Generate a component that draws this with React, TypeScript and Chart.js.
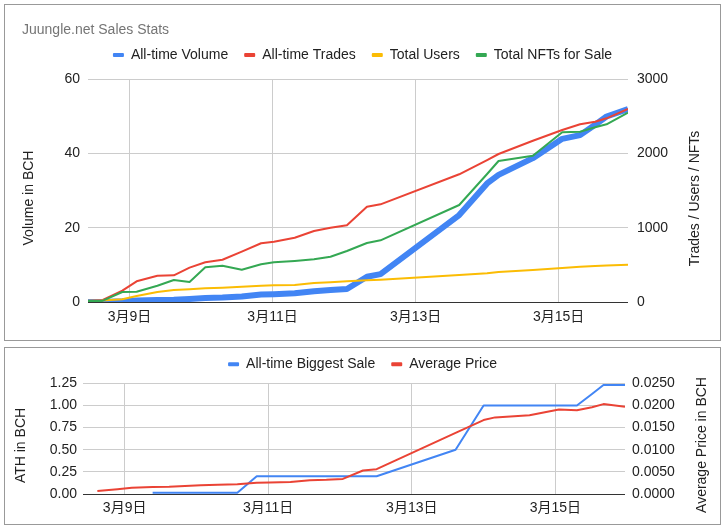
import React, { useEffect, useRef } from 'react';
import { Chart, registerables } from 'chart.js';

Chart.register(...registerables);

// ---- data ----
const days = [8.42, 8.62, 8.9, 9.1, 9.39, 9.62, 9.84, 10.06, 10.3, 10.57, 10.84, 11.02, 11.31, 11.58, 11.81, 12.04, 12.32, 12.51, 13.61, 14.0, 14.16, 14.64, 15.05, 15.3, 15.51, 15.67, 15.97];
const volume = [0, 0.02, 0.17, 0.39, 0.57, 0.6, 0.83, 1.07, 1.19, 1.49, 2.0, 2.1, 2.34, 2.9, 3.2, 3.5, 6.8, 7.5, 23.4, 31.9, 34.2, 38.7, 43.9, 44.9, 47.7, 49.9, 51.9];
const trades = [15, 25, 152, 278, 354, 359, 462, 534, 569, 677, 790, 811, 865, 955, 1000, 1032, 1282, 1314, 1718, 1910, 1991, 2170, 2314, 2391, 2426, 2471, 2597];
const users = [17, 20, 36, 81, 135, 161, 172, 184, 192, 206, 219, 225, 229, 256, 266, 278, 292, 300, 363, 387, 404, 430, 457, 475, 484, 491, 500];
const nfts = [15, 15, 135, 139, 219, 296, 269, 467, 488, 435, 507, 534, 552, 574, 609, 686, 794, 830, 1305, 1722, 1897, 1968, 2283, 2291, 2350, 2391, 2547];
const biggestSale = [null, null, null, null, 0.015, 0.015, 0.015, 0.015, 0.015, 0.015, 0.2, 0.2, 0.2, 0.2, 0.2, 0.2, 0.2, 0.2, 0.5, 1.0, 1.0, 1.0, 1.0, 1.0, 1.13, 1.23, 1.23];
const avgPrice = [null, 0.0007, 0.0011, 0.0014, 0.0016, 0.00165, 0.0018, 0.002, 0.0021, 0.0022, 0.00255, 0.0026, 0.0027, 0.0031, 0.0032, 0.0034, 0.0053, 0.0056, 0.0138, 0.0167, 0.0173, 0.0178, 0.0191, 0.0189, 0.0196, 0.0203, 0.0197];

const dayTicks = [9, 11, 13, 15];
const volumeTicks = [0, 20, 40, 60];
const countTicks = [0, 1000, 2000, 3000];
const athTicks = [0, 0.25, 0.5, 0.75, 1, 1.25];
const priceTicks = [0, 0.005, 0.01, 0.015, 0.02, 0.025];

const FONT = "Arial, 'Liberation Sans', 'Noto Sans CJK JP', sans-serif";
const BLUE = '#4285f4';
const RED = '#ea4335';
const YELLOW = '#fbbc04';
const GREEN = '#34a853';

const pts = (ys: (number | null)[]) => days.map((d, i) => ({ x: d, y: ys[i] }));
const fixTicks = (vals: number[]) => (scale: any) => {
  scale.ticks = vals.map((v) => ({ value: v }));
};

const axisTitlePlugin = {
  id: 'axisTitles',
  afterDraw(chart: any, _args: any, opts: any) {
    const ctx = chart.ctx;
    (opts.items || []).forEach((it: any) => {
      ctx.save();
      ctx.translate(it.x, it.y);
      ctx.rotate(-Math.PI / 2);
      ctx.font = `14px ${FONT}`;
      ctx.fillStyle = '#222';
      ctx.textAlign = 'center';
      ctx.textBaseline = 'middle';
      ctx.fillText(it.text, 0, 0);
      ctx.restore();
    });
  },
};

const legendLabels = (padding: number) => ({
  font: { size: 14, family: FONT },
  color: '#222',
  boxWidth: 11,
  boxHeight: 4,
  padding,
  useBorderRadius: true,
  borderRadius: 1,
  sort: (a: any, b: any) => a.datasetIndex - b.datasetIndex,
  generateLabels: (chart: any) =>
    (Chart.defaults.plugins.legend.labels as any)
      .generateLabels(chart)
      .map((l: any) => ({ ...l, lineWidth: 0, fillStyle: l.strokeStyle })),
});

const gridColor = (c: any) => (c.tick && c.tick.value === 0 ? '#333' : '#ccc');
const tickFont = { size: 14, family: FONT };

function xScale(height: number, pad: number) {
  return {
    type: 'linear' as const,
    min: days[0],
    max: days[days.length - 1],
    afterBuildTicks: fixTicks(dayTicks),
    afterFit: (s: any) => {
      s.height = height;
    },
    grid: { color: '#ccc', drawTicks: false },
    border: { display: false },
    ticks: {
      font: tickFont,
      color: '#222',
      padding: pad,
      maxRotation: 0,
      autoSkip: false,
      callback: (v: any) => `3月${v}日`,
    },
  };
}

function yScale(pos: 'left' | 'right', min: number, max: number, ticks: number[], width: number, pad: number, fmt: (v: number) => string, grid: boolean) {
  return {
    type: 'linear' as const,
    position: pos,
    min,
    max,
    afterBuildTicks: fixTicks(ticks),
    afterFit: (s: any) => {
      s.width = width;
    },
    grid: grid ? { color: gridColor, drawTicks: false } : { display: false, drawTicks: false },
    border: { display: false },
    ticks: { font: tickFont, color: '#222', padding: pad, callback: (v: any) => fmt(Number(v)) },
  };
}

function lineDs(label: string, data: (number | null)[], color: string, width: number, axis: string, order: number) {
  return {
    label,
    data: pts(data),
    borderColor: color,
    backgroundColor: color,
    borderWidth: width,
    pointRadius: 0,
    pointHoverRadius: 0,
    tension: 0,
    fill: false,
    yAxisID: axis,
    order,
    borderJoinStyle: 'round' as const,
  };
}

function TopChart() {
  const ref = useRef<HTMLCanvasElement>(null);
  useEffect(() => {
    const chart = new Chart(ref.current!, {
      type: 'line',
      data: {
        datasets: [
          lineDs('All-time Volume', volume, BLUE, 6, 'y', 4),
          lineDs('All-time Trades', trades, RED, 2, 'y1', 3),
          lineDs('Total Users', users, YELLOW, 2, 'y1', 2),
          lineDs('Total NFTs for Sale', nfts, GREEN, 2, 'y1', 1),
        ] as any,
      },
      options: {
        responsive: false,
        animation: false,
        events: [],
        layout: { padding: { top: 0, left: 17, right: 17, bottom: 0 } },
        scales: {
          x: xScale(38, 7),
          y: yScale('left', 0, 60, volumeTicks, 66, 8, (v) => String(v), true),
          y1: yScale('right', 0, 3000, countTicks, 75, 9, (v) => String(v), false),
        } as any,
        plugins: {
          title: {
            display: true,
            text: 'Juungle.net Sales Stats',
            align: 'start',
            color: '#757575',
            font: { size: 14, weight: 'normal', family: FONT, lineHeight: 0.1 },
            padding: { top: 24.3, bottom: 1.3 },
          },
          subtitle: {
            display: true,
            text: '',
            weight: 500,
            font: { size: 1, lineHeight: 1 },
            padding: { top: 0, bottom: 6 },
          } as any,
          legend: { position: 'top', labels: legendLabels(16) as any },
          tooltip: { enabled: false },
          axisTitles: {
            items: [
              { text: 'Volume in BCH', x: 24, y: 193 },
              { text: 'Trades / Users / NFTs', x: 690.5, y: 193.5 },
            ],
          },
        } as any,
      },
      plugins: [axisTitlePlugin],
    });
    return () => chart.destroy();
  }, []);
  return <canvas ref={ref} width={715} height={335} style={{ display: 'block', width: 715, height: 335 }} />;
}

function BottomChart() {
  const ref = useRef<HTMLCanvasElement>(null);
  useEffect(() => {
    const chart = new Chart(ref.current!, {
      type: 'line',
      data: {
        datasets: [
          lineDs('All-time Biggest Sale', biggestSale, BLUE, 2, 'y', 2),
          lineDs('Average Price', avgPrice, RED, 2, 'y1', 1),
        ] as any,
      },
      options: {
        responsive: false,
        animation: false,
        events: [],
        layout: { padding: { top: -6.7, left: 0, right: 0, bottom: 0 } },
        scales: {
          x: xScale(30, 6),
          y: yScale('left', 0, 1.25, athTicks, 78, 6, (v) => v.toFixed(2), true),
          y1: yScale('right', 0, 0.025, priceTicks, 95, 7, (v) => v.toFixed(4), false),
        } as any,
        plugins: {
          title: { display: false },
          subtitle: {
            display: true,
            text: '',
            weight: 500,
            font: { size: 1, lineHeight: 1 },
            padding: { top: 0, bottom: 1 },
          } as any,
          legend: { position: 'top', labels: legendLabels(16) as any },
          tooltip: { enabled: false },
          axisTitles: {
            items: [
              { text: 'ATH in BCH', x: 16, y: 97.5 },
              { text: 'Average Price in BCH', x: 697, y: 97 },
            ],
          },
        } as any,
      },
      plugins: [axisTitlePlugin],
    });
    return () => chart.destroy();
  }, []);
  return <canvas ref={ref} width={715} height={176} style={{ display: 'block', width: 715, height: 176 }} />;
}

const boxStyle = (top: number, height: number): React.CSSProperties => ({
  position: 'absolute',
  left: 4,
  top,
  width: 717,
  height,
  border: '1px solid #999',
  boxSizing: 'border-box',
  background: '#fff',
});

export default function App() {
  return (
    <div>
      <div style={boxStyle(4, 337)}>
        <TopChart />
      </div>
      <div style={boxStyle(347, 178)}>
        <BottomChart />
      </div>
    </div>
  );
}
